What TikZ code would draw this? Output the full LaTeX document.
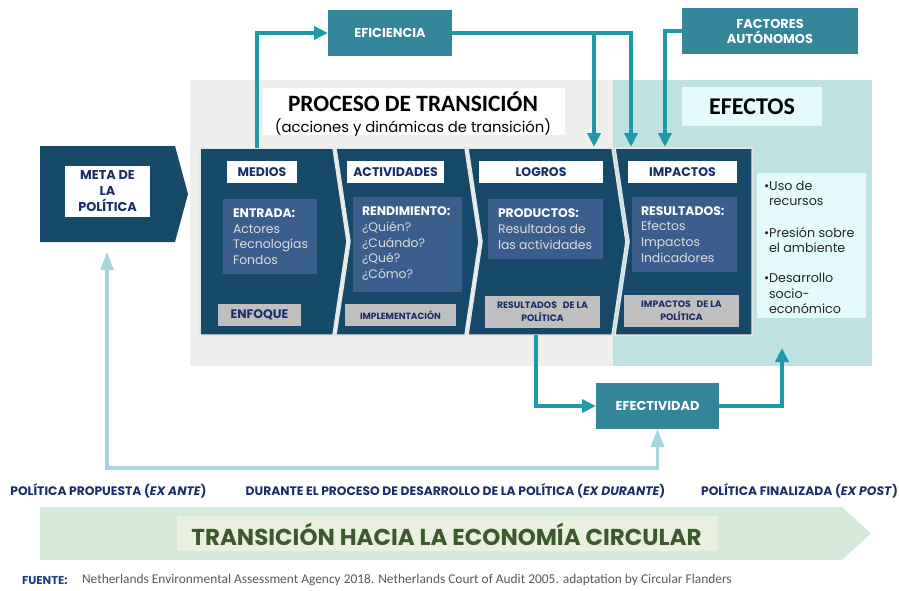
\documentclass[tikz,border=0pt]{standalone}
\usepackage{fontspec}
\setmainfont{Poppins}
\newfontfamily\calib{Carlito}
\usetikzlibrary{arrows.meta}
\definecolor{navy}{HTML}{164868}
\definecolor{innerblue}{HTML}{3A5F8C}
\definecolor{headtext}{HTML}{1B2D69}
\definecolor{greybox}{HTML}{BFBFBF}
\definecolor{tealbox}{HTML}{338599}
\definecolor{tealarrow}{HTML}{1E9AA8}
\definecolor{lightarrow}{HTML}{A6D6DD}
\definecolor{greybg}{HTML}{EFEFED}
\definecolor{tealbg}{HTML}{BDE2E0}
\definecolor{lightcyan}{HTML}{E5FBFB}
\definecolor{greenbg}{HTML}{D6EADB}
\definecolor{greeninner}{HTML}{EAF0DF}
\definecolor{greentext}{HTML}{3D5A2E}
\definecolor{fuentenavy}{HTML}{1F3F8A}
\definecolor{fuentegrey}{HTML}{5A5A5A}
\definecolor{innertext}{HTML}{DCDCDC}
\definecolor{panelline}{HTML}{E4E6E6}
\tikzset{
  fbox/.style={inner sep=0pt, outer sep=0pt},
  tealnode/.style={fbox, fill=tealbox, text=white, font=\bfseries\fontsize{12.9}{14}\selectfont, align=center},
  headnode/.style={fbox, fill=white, text=headtext, font=\bfseries\fontsize{12.5}{14}\selectfont},
  innerbox/.style={fbox, fill=innerblue},
  innertxt/.style={fbox, anchor=north west, align=left, text=innertext, font=\fontsize{12.4}{15.6}\selectfont},
  greynode/.style={fbox, fill=greybox, text=headtext, align=center},
  panel/.style={fill=navy, draw=panelline, line width=1.5pt},
  tarrow/.style={draw=tealarrow, line width=3.5pt, -{Triangle[length=14pt,width=13pt]}},
  larrow/.style={draw=lightarrow, line width=3.5pt, {Triangle[length=18pt,width=13pt]}-{Triangle[length=18pt,width=13pt]}},
  bottomlbl/.style={fbox, text=headtext, font=\bfseries\fontsize{12.3}{14}\selectfont},
  listtxt/.style={fbox, anchor=north west, align=left, text=black!85, font=\fontsize{12.7}{15.2}\selectfont}
}
\begin{document}
\begin{tikzpicture}[x=1pt,y=-1pt]
\useasboundingbox (0,0) rectangle (899,590);
% backgrounds
\fill[greybg] (190,80) rectangle (613,366);
\fill[tealbg] (613,80) rectangle (872,366);
% title boxes
\node[fbox, fill=white, minimum width=302pt, minimum height=47pt] (proc) at (414,111.5) {};
\node[fbox, font=\calib\bfseries\fontsize{23.4}{25}\selectfont] (proct) at (413,102) {PROCESO DE TRANSICIÓN};
\node[fbox, font=\fontsize{14.8}{16}\selectfont] (procs) at (413,127) {(acciones y dinámicas de transición)};
\node[fbox, fill=lightcyan, minimum width=140pt, minimum height=39pt, font=\calib\bfseries\fontsize{24}{26}\selectfont] (efectos) at (752,106.5) {EFECTOS};
% top boxes
\node[tealnode, minimum width=124pt, minimum height=46pt] (efi) at (390,33) {EFICIENCIA};
\node[tealnode, minimum width=176pt, minimum height=46pt, font=\bfseries\fontsize{12.9}{15}\selectfont] (fac) at (770,31) {FACTORES\\AUTÓNOMOS};
% meta
\fill[navy] (40,146) -- (175,146) -- (188,194) -- (175,242) -- (40,242) -- cycle;
\node[fbox, fill=white, minimum width=85pt, minimum height=51pt, text=headtext, align=center, font=\bfseries\fontsize{12.8}{16}\selectfont] (meta) at (107.5,191.5) {META DE\\LA\\POLÍTICA};
% panels
\path[panel] (200,148) -- (333,148) -- (347,241.5) -- (333,335) -- (200,335) -- cycle;
\path[panel] (336,148) -- (465,148) -- (479,241.5) -- (465,335) -- (336,335) -- (350,241.5) -- cycle;
\path[panel] (468,148) -- (612,148) -- (626,241.5) -- (612,335) -- (468,335) -- (482,241.5) -- cycle;
\path[panel] (615,148) -- (752,148) -- (752,335) -- (615,335) -- (629,241.5) -- cycle;
% headers
\node[headnode, minimum width=70pt, minimum height=22pt] (h1) at (262,172) {MEDIOS};
\node[headnode, minimum width=97pt, minimum height=22pt] (h2) at (395.5,172) {ACTIVIDADES};
\node[headnode, minimum width=124pt, minimum height=22pt] (h3) at (541,172) {LOGROS};
\node[headnode, minimum width=109pt, minimum height=22pt] (h4) at (682.5,172) {IMPACTOS};
% inner boxes
\node[innerbox, minimum width=94pt, minimum height=75pt] (b1) at (270,236.5) {};
\node[innerbox, minimum width=109pt, minimum height=95pt] (b2) at (407.5,244.5) {};
\node[innerbox, minimum width=115pt, minimum height=60pt] (b3) at (545.5,229) {};
\node[innerbox, minimum width=105pt, minimum height=75pt] (b4) at (684.5,234.5) {};
\node[innertxt] (t1) at (233,209) {\textcolor{white}{\bfseries ENTRADA:}\\Actores\\Tecnologías\\Fondos};
\node[innertxt] (t2) at (362,207) {\textcolor{white}{\bfseries RENDIMIENTO:}\\¿Quién?\\¿Cuándo?\\¿Qué?\\¿Cómo?};
\node[innertxt] (t3) at (498,209) {\textcolor{white}{\bfseries PRODUCTOS:}\\Resultados de\\las actividades};
\node[innertxt] (t4) at (641,206.5) {\textcolor{white}{\bfseries RESULTADOS:}\\Efectos\\Impactos\\Indicadores};
% grey boxes
\node[greynode, minimum width=83pt, minimum height=22pt, font=\bfseries\fontsize{12.4}{14}\selectfont] (g1) at (259.5,315) {ENFOQUE};
\node[greynode, minimum width=111pt, minimum height=22pt, font=\bfseries\fontsize{9}{10}\selectfont] (g2) at (400.5,315) {IMPLEMENTACIÓN};
\node[greynode, minimum width=115pt, minimum height=32pt, font=\bfseries\fontsize{9.3}{13}\selectfont] (g3) at (542.5,312) {RESULTADOS\ \ \ DE LA\\POLÍTICA};
\node[greynode, minimum width=115pt, minimum height=32pt, font=\bfseries\fontsize{9.3}{13}\selectfont] (g4) at (681.5,311) {IMPACTOS\ \ \ DE LA\\POLÍTICA};
% list box
\node[fbox, fill=lightcyan, minimum width=109pt, minimum height=145pt] (list) at (811.5,245.5) {};
\node[listtxt] (l1) at (764,181) {•Uso de\\\hspace*{5pt}recursos};
\node[listtxt] (l2) at (764,227) {•Presión sobre\\\hspace*{5pt}el ambiente};
\node[listtxt] (l3) at (764,273.5) {•Desarrollo\\\hspace*{5pt}socio-\\\hspace*{5pt}económico};
% efectividad
\node[tealnode, minimum width=123pt, minimum height=46pt] (efec) at (657.5,406) {EFECTIVIDAD};
% connector coordinates
\coordinate (m1top) at (257,148);
\coordinate (logrosin) at (594,147);
\coordinate (impin) at (631,147);
\coordinate (facin) at (665,147);
\coordinate (logrosout) at (536,335);
\coordinate (efin) at (782,348);
\coordinate (metain) at (107,252);
\coordinate (loopL) at (107,468);
% connectors
\draw[tarrow] (m1top) |- (efi.west);
\draw[tarrow] (efi.east) -| (logrosin);
\draw[tarrow] (efi.east) -| (impin);
\draw[tarrow] (fac.west) -| (facin);
\draw[tarrow] (logrosout) |- (efec.west);
\draw[tarrow] (efec.east) -| (efin);
\draw[larrow] (metain) -- (loopL) -| (efec.south);
% bottom labels
\node[bottomlbl] (lb1) at (108.5,491) {POLÍTICA PROPUESTA (\textit{EX ANTE})};
\node[bottomlbl] (lb2) at (455.5,491) {DURANTE EL PROCESO DE DESARROLLO DE LA POLÍTICA (\textit{EX DURANTE})};
\node[bottomlbl] (lb3) at (799.5,491) {POLÍTICA FINALIZADA (\textit{EX POST})};
% banner
\fill[greenbg] (40,507) -- (842,507) -- (871,533.5) -- (842,560) -- (40,560) -- cycle;
\node[fbox, fill=greeninner, minimum width=541pt, minimum height=35pt] (bannerbox) at (447.5,533.5) {};
\node[fbox, text=greentext, font=\bfseries\fontsize{23}{25}\selectfont] (bannert) at (446.5,534) {TRANSICIÓN HACIA LA ECONOMÍA CIRCULAR};
% source
\node[fbox, anchor=west, text=fuentenavy, font=\bfseries\fontsize{11.5}{12}\selectfont] (fuente) at (22,580) {FUENTE:};
\node[fbox, anchor=west, text=fuentegrey, font=\calib\fontsize{13.4}{14}\selectfont] (fuentet) at (82,580) {Netherlands Environmental Assessment Agency 2018. Netherlands Court of Audit 2005. adaptation by Circular Flanders};
\end{tikzpicture}
\end{document}
